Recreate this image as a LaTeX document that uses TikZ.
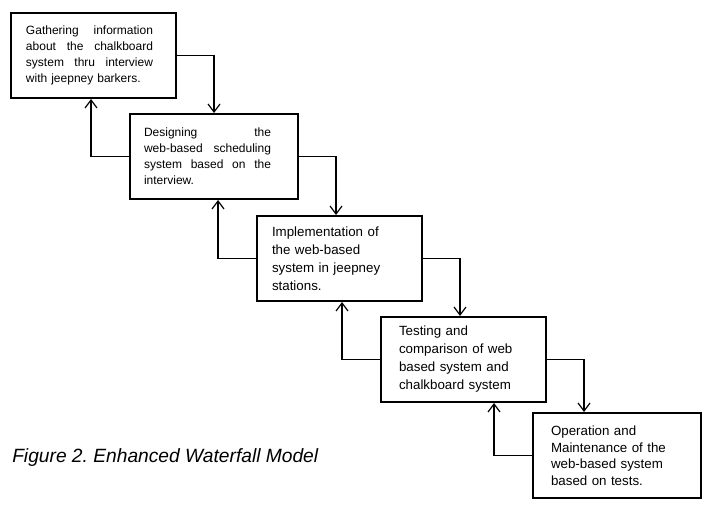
\documentclass[tikz,border=0pt]{standalone}
\usepackage{fontspec}
\setmainfont{Liberation Sans}
\usetikzlibrary{arrows.meta}

\newcommand\fillline[1]{\makebox[95.25pt][l]{#1}}

\tikzset{
  stage/.style={draw, line width=1.5pt, anchor=north west, align=left, minimum height=63.75pt, inner ysep=2pt},
  small/.style={font=\fontsize{9}{12}\selectfont},
  large/.style={font=\fontsize{10}{13.5}\selectfont},
  flow/.style={-{Straight Barb[length=6pt,width=9pt]}, line width=0.9pt},
}

\begin{document}
\begin{tikzpicture}[x=0.75pt,y=-0.75pt]
  \useasboundingbox (0,0) rectangle (706,506);
  % the five stages
  \node[stage,small,text width=101.25pt,inner xsep=11.25pt](gather)at(10,12){\fillline{Gathering\hfill information}\\\fillline{about\hfill the\hfill chalkboard}\\\fillline{system\hfill thru\hfill interview}\\with jeepney barkers.};
  \node[stage,small,text width=105pt,inner xsep=10.5pt](design)at(129,113){\fillline{Designing\hfill the}\\\fillline{web-based\hfill scheduling}\\\fillline{system\hfill based\hfill on\hfill the}\\interview.};
  \node[stage,large,text width=101.25pt,inner xsep=11.25pt](implement)at(256,215){Implementation of\\the web-based\\system in jeepney\\stations.};
  \node[stage,large,text width=96.75pt,inner xsep=13.5pt](testing)at(380,316){Testing and\\comparison of web\\based system and\\chalkboard system};
  \node[stage,font=\fontsize{10}{12.4}\selectfont,text width=99pt,inner xsep=13.5pt](operation)at(532,412){Operation and\\Maintenance of the\\web-based system\\based on tests.};
  % forward and feedback arrows
  \foreach \a/\b in {gather/design,design/implement,implement/testing,testing/operation}{
    \draw[flow](\a.east)--++(37,0)coordinate(f)--(f|-\b.north);
    \draw[flow](\b.west)--++(-38,0)coordinate(r)--(r|-\a.south);
  }
  \node[anchor=base west,inner sep=0pt,font=\fontsize{14.4}{17}\selectfont\itshape](caption)at(12,462){Figure 2.\ Enhanced Waterfall Model};
\end{tikzpicture}
\end{document}
